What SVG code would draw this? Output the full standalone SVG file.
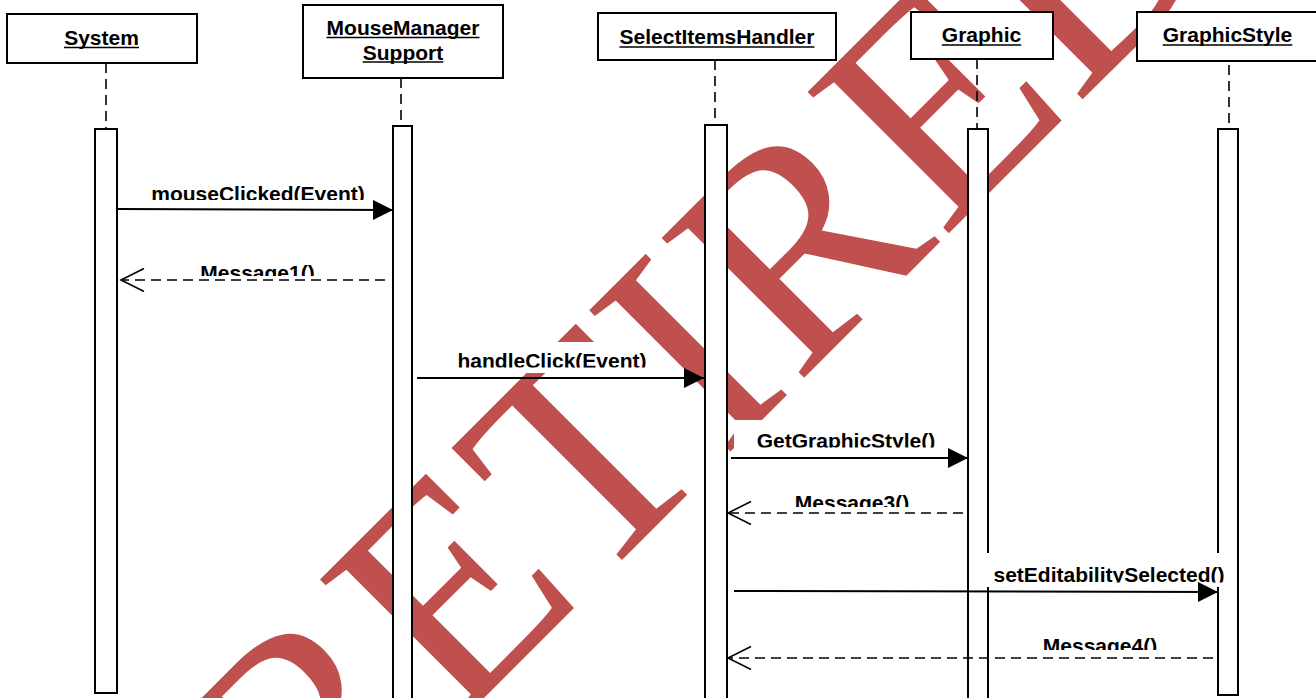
<svg xmlns="http://www.w3.org/2000/svg" width="1316" height="698" viewBox="0 0 1316 698">
  <style>
    .box { fill: #fff; stroke: #000; stroke-width: 2; }
    .bar { fill: #fff; stroke: #000; stroke-width: 2; }
    .life { fill: none; stroke: #000; stroke-width: 1.6; stroke-dasharray: 10 6; }
    .name { font-family: "Liberation Sans", Arial, sans-serif; font-weight: bold; font-size: 21px; fill: #000; text-anchor: middle; }
    .ul { stroke: #000; stroke-width: 1.5; }
    .call { fill: none; stroke: #000; stroke-width: 2; }
    .reply { fill: none; stroke: #000; stroke-width: 1.6; stroke-dasharray: 10 6; }
    .lbl { font-family: "Liberation Sans", Arial, sans-serif; font-weight: bold; font-size: 21px; fill: #000; text-anchor: middle; }
    .lblbg { fill: #fff; }
    .stamp { font-family: "Liberation Serif", "Times New Roman", serif; font-size: 305px; letter-spacing: 3px; fill: #C0504D; }
  </style>
  <defs>
    <marker id="head-solid" markerUnits="userSpaceOnUse" markerWidth="22" markerHeight="22" refX="20" refY="10" orient="auto">
      <path d="M0,0 L20,10 L0,20 Z" fill="#000"/>
    </marker>
    <marker id="head-open" markerUnits="userSpaceOnUse" markerWidth="26" markerHeight="26" refX="24" refY="12" orient="auto">
      <path d="M1,0.5 L24,12 L1,23.5" fill="none" stroke="#000" stroke-width="1.6"/>
    </marker>
    <clipPath id="c1"><rect x="100" y="170" width="320" height="30"/></clipPath>
    <clipPath id="c2"><rect x="100" y="250" width="320" height="26"/></clipPath>
    <clipPath id="c3"><rect x="420" y="335" width="280" height="32.5"/></clipPath>
    <clipPath id="c4"><rect x="735" y="420" width="230" height="27.5"/></clipPath>
    <clipPath id="c5"><rect x="735" y="480" width="230" height="27"/></clipPath>
    <clipPath id="c6"><rect x="975" y="550" width="260" height="32.5"/></clipPath>
    <clipPath id="c7"><rect x="980" y="620" width="240" height="30"/></clipPath>
  </defs>

  <!-- status stamp behind the diagram -->
  <text class="stamp" transform="translate(309,873) rotate(-45)">RETIRED</text>

  <!-- lifelines -->
  <g id="system">
    <rect class="box" x="7" y="14" width="190" height="49"/>
    <text class="name" x="101.5" y="44.5">System</text>
    <line class="ul" x1="64" y1="47.5" x2="139" y2="47.5"/>
    <line class="life" x1="106" y1="63" x2="106" y2="129"/>
    <rect class="bar" x="95" y="129" width="22" height="564"/>
  </g>

  <g id="mousemanager">
    <rect class="box" x="303" y="5" width="200" height="73"/>
    <text class="name" x="403" y="35">MouseManager</text>
    <line class="ul" x1="326.5" y1="37.5" x2="479.5" y2="37.5"/>
    <text class="name" x="403" y="59.5">Support</text>
    <line class="ul" x1="362.7" y1="62" x2="443.3" y2="62"/>
    <line class="life" x1="401" y1="78" x2="401" y2="126"/>
    <rect class="bar" x="393" y="126" width="19" height="580"/>
  </g>

  <g id="selectitems">
    <rect class="box" x="598" y="13" width="238" height="47"/>
    <text class="name" x="717" y="44">SelectItemsHandler</text>
    <line class="ul" x1="619.5" y1="47" x2="814.5" y2="47"/>
    <line class="life" x1="715" y1="60" x2="715" y2="125"/>
    <rect class="bar" x="705" y="125" width="22" height="580"/>
  </g>

  <g id="graphic">
    <rect class="box" x="911" y="12" width="142" height="47"/>
    <text class="name" x="981.5" y="42">Graphic</text>
    <line class="ul" x1="941.8" y1="45" x2="1021.2" y2="45"/>
    <line class="life" x1="977" y1="59" x2="977" y2="129"/>
    <rect class="bar" x="968" y="129" width="20" height="580"/>
  </g>

  <g id="graphicstyle">
    <rect class="box" x="1137" y="12" width="182" height="49"/>
    <text class="name" x="1227.5" y="42">GraphicStyle</text>
    <line class="ul" x1="1162.7" y1="45" x2="1292.3" y2="45"/>
    <line class="life" x1="1229" y1="65" x2="1229" y2="129"/>
    <rect class="bar" x="1218" y="129" width="20" height="566"/>
  </g>

  <!-- messages -->
  <g id="connectors">
    <rect class="lblbg" x="146" y="172" width="224" height="32"/>
    <text class="lbl" x="258" y="200.5" clip-path="url(#c1)">mouseClicked(Event)</text>
    <line class="call" x1="118" y1="209" x2="393" y2="210" marker-end="url(#head-solid)"/>

    <rect class="lblbg" x="196" y="245" width="124" height="30"/>
    <text class="lbl" x="257.5" y="280" clip-path="url(#c2)">Message1()</text>
    <line class="reply" x1="385" y1="280" x2="121" y2="280" marker-end="url(#head-open)"/>

    <rect class="lblbg" x="449" y="342" width="208" height="31"/>
    <text class="lbl" x="552" y="367.5" clip-path="url(#c3)">handleClick(Event)</text>
    <line class="call" x1="417" y1="378" x2="704" y2="378" marker-end="url(#head-solid)"/>

    <rect class="lblbg" x="734" y="420" width="226" height="32"/>
    <text class="lbl" x="846" y="448" clip-path="url(#c4)">GetGraphicStyle()</text>
    <line class="call" x1="731" y1="458" x2="968" y2="458" marker-end="url(#head-solid)"/>

    <rect class="lblbg" x="790" y="478" width="124" height="30"/>
    <text class="lbl" x="852" y="510" clip-path="url(#c5)">Message3()</text>
    <line class="reply" x1="963" y1="513" x2="728" y2="513" marker-end="url(#head-open)"/>

    <rect class="lblbg" x="976" y="553" width="255" height="34"/>
    <text class="lbl" x="1109" y="582" clip-path="url(#c6)">setEditabilitySelected()</text>
    <line class="call" x1="734" y1="591" x2="1218" y2="592" marker-end="url(#head-solid)"/>

    <rect class="lblbg" x="1038" y="620" width="124" height="32"/>
    <text class="lbl" x="1100" y="653" clip-path="url(#c7)">Message4()</text>
    <line class="reply" x1="1213" y1="658" x2="728" y2="658" marker-end="url(#head-open)"/>
  </g>
</svg>
